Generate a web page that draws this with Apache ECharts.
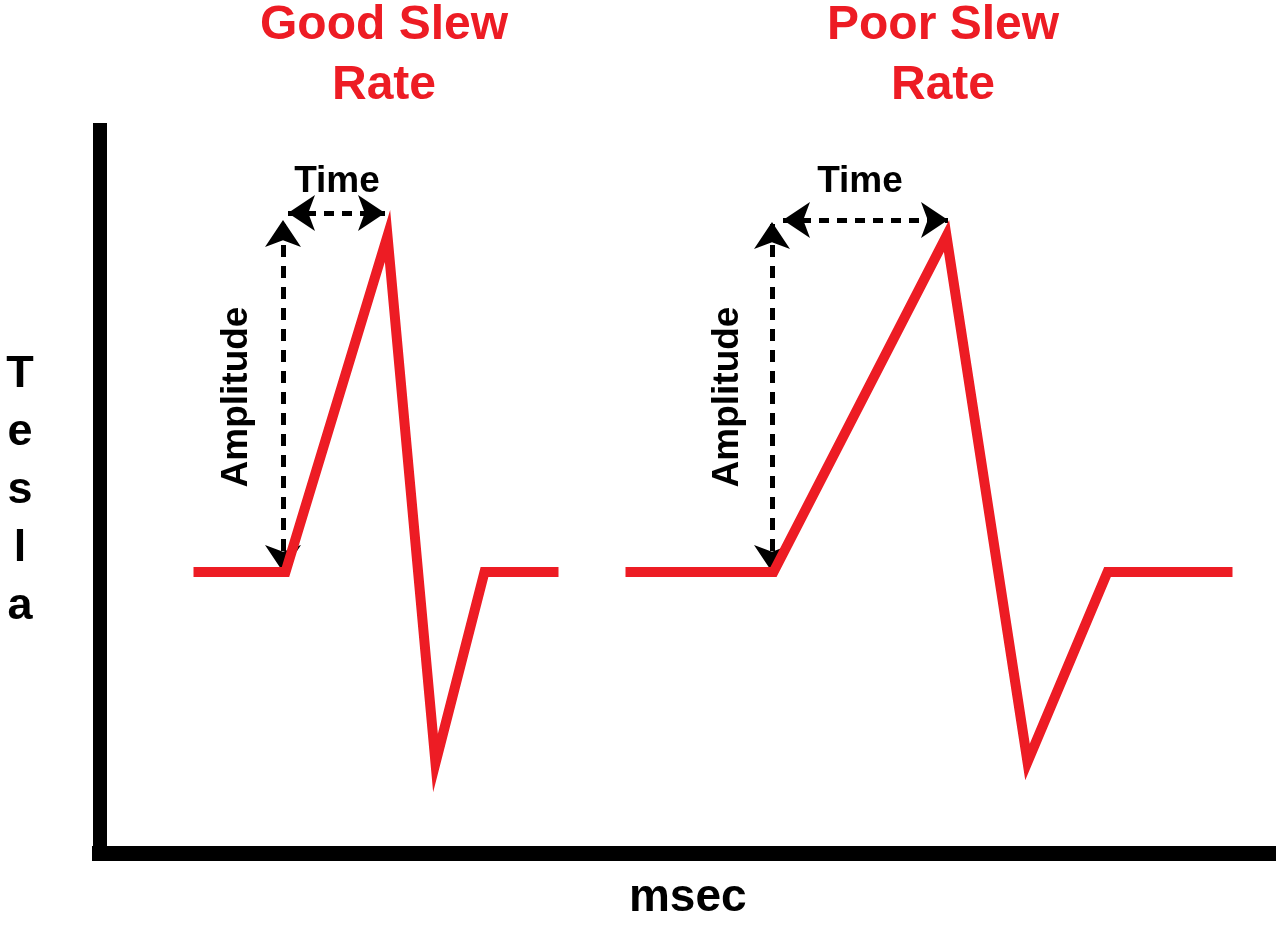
<!DOCTYPE html>
<html lang="en">
<head>
    <meta charset="UTF-8">
    <title>Slew Rate</title>
    <script src="https://cdn.jsdelivr.net/npm/echarts@6/dist/echarts.min.js"></script>
    <style>
        html, body { margin: 0; padding: 0; background: #ffffff; }
        #chart { width: 1276px; height: 930px; }
    </style>
</head>
<body>
    <div id="chart"></div>
    <script>
        // waveform points (x in msec units, y in tesla units, baseline = 0)
        const goodX = [9.4, 18.6, 28.8, 33.6, 38.5, 45.9];
        const goodY = [0, 0, 33.6, -19.1, 0, 0];
        const poorX = [52.6, 67.4, 84.7, 92.8, 100.8, 113.3];
        const poorY = [0, 0, 33.6, -19.0, 0, 0];

        // dashed double arrows: [x1, y1, x2, y2]
        const amplitudeArrows = [
            [18.35, 0, 18.35, 35.2],
            [67.25, 0, 67.25, 35.0]
        ];
        const timeArrows = [
            [18.85, 35.9, 28.55, 35.9],
            [68.35, 35.2, 84.85, 35.2]
        ];

        const titles = ['Good Slew', 'Poor Slew'];
        const xName = 'msec';
        const yName = 'Tesla';

        const RED = '#ED1C24';
        const FONT = '"Liberation Sans", Arial, sans-serif';

        const zip = (xs, ys) => xs.map((x, i) => [x, ys[i]]);
        const arrowData = list => list.map(a => ({ coords: [[a[0], a[1]], [a[2], a[3]]] }));

        const chart = echarts.init(document.getElementById('chart'));

        const txt = (text, x, y, size, color, rot) => ({
            type: 'text',
            x: x,
            y: y,
            rotation: rot || 0,
            style: {
                text: text,
                fill: color,
                font: 'bold ' + size + 'px ' + FONT,
                align: 'center',
                verticalAlign: 'middle'
            }
        });

        const option = {
            backgroundColor: '#ffffff',
            animation: false,
            grid: { left: 99.5, right: 0, top: 130, bottom: 76.5 },
            xAxis: {
                type: 'value',
                min: 0,
                max: 117.65,
                name: xName,
                nameLocation: 'middle',
                nameGap: 22,
                nameTextStyle: { fontFamily: FONT, fontWeight: 'bold', fontSize: 46, color: '#000' },
                axisLine: { onZero: false, lineStyle: { color: '#000', width: 15, cap: 'square' } },
                axisTick: { show: false },
                axisLabel: { show: false },
                splitLine: { show: false }
            },
            yAxis: {
                type: 'value',
                min: -28.15,
                max: 44.2,
                axisLine: { show: true, onZero: false, lineStyle: { color: '#000', width: 14, cap: 'square' } },
                axisTick: { show: false },
                axisLabel: { show: false },
                splitLine: { show: false }
            },
            graphic: [
                txt(titles[0], 384, 26, 48, RED),
                txt('Rate', 384, 86, 48, RED),
                txt(titles[1], 943, 26, 48, RED),
                txt('Rate', 943, 86, 48, RED),
                txt('Time', 337, 182, 37, '#000'),
                txt('Time', 860, 182, 37, '#000'),
                txt('Amplitude', 237, 397, 37, '#000', Math.PI / 2),
                txt('Amplitude', 728, 397, 37, '#000', Math.PI / 2),
                {
                    type: 'text',
                    x: 20,
                    y: 491,
                    style: {
                        text: yName.split('').join('\n'),
                        fill: '#000',
                        font: 'bold 45px ' + FONT,
                        lineHeight: 58,
                        align: 'center',
                        verticalAlign: 'middle'
                    }
                }
            ],
            series: [
                {
                    name: 'Good Slew Rate',
                    type: 'line',
                    data: zip(goodX, goodY),
                    symbol: 'none',
                    lineStyle: { color: RED, width: 10, join: 'miter', cap: 'butt', miterLimit: 20 }
                },
                {
                    name: 'Poor Slew Rate',
                    type: 'line',
                    data: zip(poorX, poorY),
                    symbol: 'none',
                    lineStyle: { color: RED, width: 10, join: 'miter', cap: 'butt', miterLimit: 20 }
                },
                {
                    name: 'Amplitude',
                    type: 'lines',
                    coordinateSystem: 'cartesian2d',
                    symbol: ['arrow', 'arrow'],
                    symbolSize: 27,
                    lineStyle: { color: '#000', width: 5, type: [12, 9], opacity: 1, curveness: 0 },
                    data: arrowData(amplitudeArrows)
                },
                {
                    name: 'Time',
                    type: 'lines',
                    coordinateSystem: 'cartesian2d',
                    symbol: ['arrow', 'arrow'],
                    symbolSize: 27,
                    lineStyle: { color: '#000', width: 5, type: [10, 8], opacity: 1, curveness: 0 },
                    data: arrowData(timeArrows)
                }
            ]
        };

        chart.setOption(option);
        window.addEventListener('resize', function () {
            chart.resize();
        });
    </script>
</body>
</html>
